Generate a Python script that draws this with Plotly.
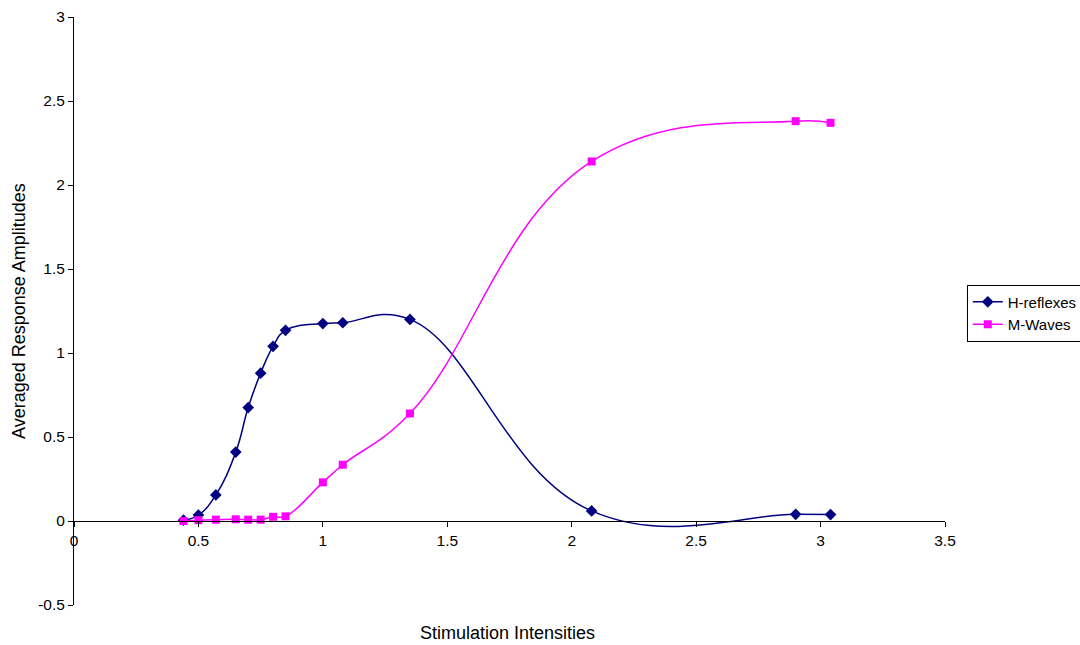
import plotly.graph_objects as go

# Data
h_x = [0.44, 0.50, 0.57, 0.65, 0.70, 0.75, 0.80, 0.85, 1.00, 1.08, 1.35, 2.08, 2.90, 3.04]
h_y = [0.005, 0.035, 0.155, 0.41, 0.675, 0.88, 1.04, 1.135, 1.175, 1.18, 1.20, 0.06, 0.04, 0.038]

m_x = [0.44, 0.50, 0.57, 0.65, 0.70, 0.75, 0.80, 0.85, 1.00, 1.08, 1.35, 2.08, 2.90, 3.04]
m_y = [0.0, 0.005, 0.008, 0.01, 0.008, 0.008, 0.025, 0.028, 0.23, 0.335, 0.64, 2.14, 2.38, 2.37]

x_ticks = [0, 0.5, 1, 1.5, 2, 2.5, 3, 3.5]
y_ticks = [-0.5, 0, 0.5, 1, 1.5, 2, 2.5, 3]

FONT = "Liberation Sans, Arial, sans-serif"

fig = go.Figure()
fig.add_trace(go.Scatter(
    x=h_x, y=h_y, name="H-reflexes", mode="lines+markers",
    line=dict(color="#000080", width=1.5, shape="spline", smoothing=1.25),
    marker=dict(symbol="diamond", size=9, color="#000080"),
))
fig.add_trace(go.Scatter(
    x=m_x, y=m_y, name="M-Waves", mode="lines+markers",
    line=dict(color="#FF00FF", width=1.5, shape="spline", smoothing=1.25),
    marker=dict(symbol="square", size=8, color="#FF00FF"),
))

fig.update_layout(
    width=1080, height=645,
    margin=dict(l=74, r=135, t=17, b=40, autoexpand=False),
    paper_bgcolor="white", plot_bgcolor="white",
    font=dict(family=FONT, size=15.5, color="black"),
    showlegend=True,
    legend=dict(
        x=1.025, y=0.545, xanchor="left", yanchor="top",
        bordercolor="black", borderwidth=1, bgcolor="white",
        font=dict(family=FONT, size=15, color="black"),
        tracegroupgap=0,
    ),
    xaxis=dict(
        range=[0, 3.5], tickvals=x_ticks, ticktext=[f"{v:g}" for v in x_ticks],
        showgrid=False, zeroline=False, showline=True, linecolor="black", linewidth=1,
        ticks="outside", ticklen=5, tickcolor="black",
        anchor="free", position=1/7, automargin=False,
        tickfont=dict(family=FONT, size=15.5, color="black"),
    ),
    yaxis=dict(
        range=[-0.5, 3], tickvals=y_ticks, ticktext=[f"{v:g}" for v in y_ticks],
        showgrid=False, zeroline=False, showline=True, linecolor="black", linewidth=1,
        ticks="outside", ticklen=5, tickcolor="black", automargin=False,
        tickfont=dict(family=FONT, size=15.5, color="black"),
    ),
    annotations=[
        dict(
            text="Stimulation Intensities", xref="paper", yref="paper",
            x=0.498, y=-0.0476, xanchor="center", yanchor="middle", showarrow=False,
            font=dict(family=FONT, size=18, color="black"),
        ),
        dict(
            text="Averaged Response Amplitudes", xref="paper", yref="paper",
            x=-0.0631, y=0.5, xanchor="center", yanchor="middle", showarrow=False,
            textangle=-90,
            font=dict(family=FONT, size=18, color="black"),
        ),
    ],
)

fig.write_html(
    "out.html",
    config={"displayModeBar": False},
    post_script="document.body.style.margin='0';document.body.style.overflow='hidden';",
)
